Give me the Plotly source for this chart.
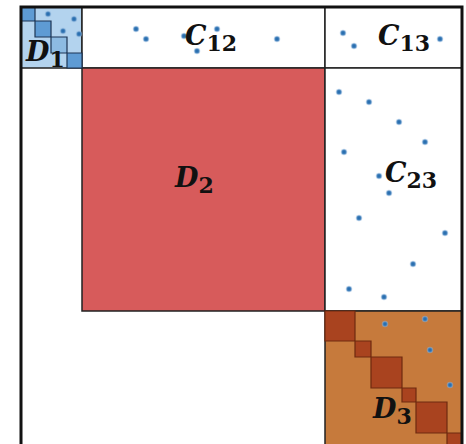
import numpy as np
import plotly.graph_objects as go

# ---- data (matrix units) ----
block_sizes = [61, 243, 137]                 # D1, D2, D3
block_fill = ["#b3d3ee", "#d75b5b", "#c67a3c"]
d1_sub_sizes = [14, 16, 16, 15]
d3_sub_sizes = [30, 16, 31, 14, 31, 15]

dot_x = [27, 53, 42, 58,
         115, 125, 163, 196, 176, 256,
         322, 333, 419,
         318, 348, 378, 404, 323, 358, 368, 338, 424, 392, 328, 363,
         364, 404, 409, 429]
dot_y = [7, 12, 24, 27,
         22, 32, 29, 22, 44, 32,
         26, 39, 32,
         85, 95, 115, 135, 145, 169, 186, 211, 226, 257, 282, 290,
         317, 312, 343, 378]

label_main = ["D", "C", "C", "D", "C", "D"]
label_sub = ["1", "12", "13", "2", "23", "3"]
label_x = [24, 190, 383, 173, 390, 371]
label_y = [47, 31, 31, 173, 168, 404]

bounds = np.concatenate([[0], np.cumsum(block_sizes)])
N = bounds[-1]

fig = go.Figure()
shapes = []

# diagonal blocks and upper off-diagonal blocks
for i in range(3):
    for j in range(i, 3):
        fill = block_fill[i] if i == j else "white"
        shapes.append(dict(type="rect", xref="x", yref="y",
                           x0=bounds[j], x1=bounds[j + 1],
                           y0=bounds[i], y1=bounds[i + 1],
                           fillcolor=fill, line=dict(color="#222", width=1.5),
                           layer="below"))

# D1 sub-blocks
c = 0
for k, s in enumerate(d1_sub_sizes):
    shapes.append(dict(type="rect", xref="x", yref="y",
                       x0=c, x1=c + s, y0=c, y1=c + s,
                       fillcolor="#5e9bd4" if k != 2 else "#8dbbe2",
                       line=dict(color="#1d3554", width=1.2), layer="below"))
    c += s

# D3 sub-blocks
c = bounds[2]
for s in d3_sub_sizes:
    shapes.append(dict(type="rect", xref="x", yref="y",
                       x0=c, x1=c + s, y0=c, y1=c + s,
                       fillcolor="#a9431f",
                       line=dict(color="#6e2a10", width=1.2), layer="below"))
    c += s

# outer frame
shapes.append(dict(type="rect", xref="x", yref="y", x0=0, x1=N, y0=0, y1=N,
                   line=dict(color="#111", width=3), fillcolor="rgba(0,0,0,0)",
                   layer="above"))

fig.add_trace(go.Scatter(x=dot_x, y=dot_y, mode="markers",
                         marker=dict(size=5, color="#2a6fb0",
                                     line=dict(color="rgba(140,180,220,0.5)", width=1.5)),
                         hoverinfo="skip", showlegend=False))

for m, s, x, y in zip(label_main, label_sub, label_x, label_y):
    fig.add_annotation(x=x, y=y, xref="x", yref="y", showarrow=False,
                       text="<b><i>" + m + "</i><sub><span style='font-size:22px'>"
                            + s + "</span></sub></b>",
                       font=dict(family="DejaVu Serif", size=27, color="#111"),
                       xanchor="center", yanchor="middle")

fig.update_layout(
    width=466, height=444,
    margin=dict(l=18, r=1, t=4, b=0),
    paper_bgcolor="white", plot_bgcolor="white",
    shapes=shapes,
    xaxis=dict(range=[-3, 444], visible=False, fixedrange=True),
    yaxis=dict(range=[437, -3], visible=False, fixedrange=True),
    showlegend=False,
)

fig.write_html("out.html", config={"displayModeBar": False},
               post_script="document.body.style.margin='0';document.body.style.overflow='hidden';")
